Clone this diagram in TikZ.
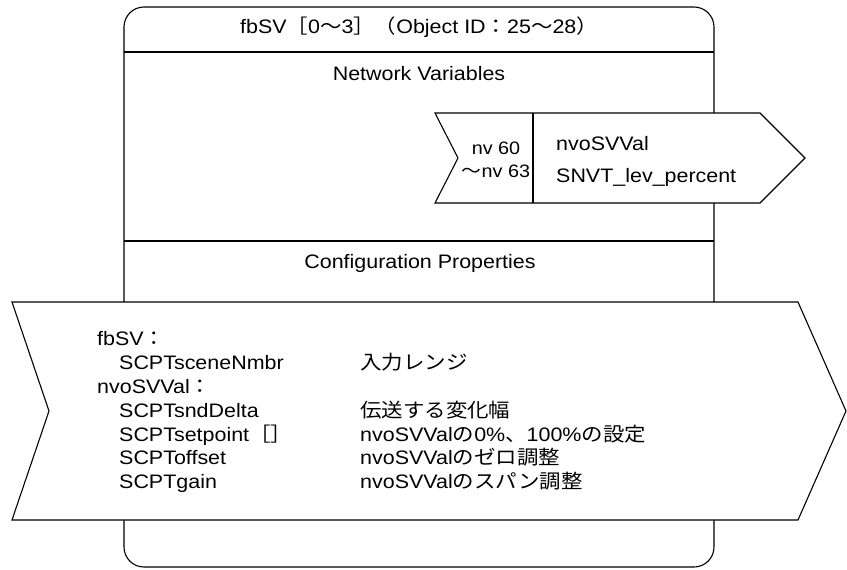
\documentclass[tikz,border=0pt]{standalone}
\usepackage{fontspec}
\setmainfont[FakeStretch=1.1]{Liberation Sans}
\newfontfamily\jp[FakeStretch=1.1]{Noto Sans CJK JP}
\begin{document}
\begin{tikzpicture}[x=1pt,y=-1pt,
  txt/.style={font=\fontsize{19.5}{23}\selectfont, inner sep=0pt},
  ltxt/.style={txt, anchor=base west},
  arrowbox/.style={draw, line width=1.1pt, fill=white}]
\useasboundingbox (0,0) rectangle (847,570);

% outer block
\draw[line width=1.1pt, rounded corners=20pt] (124,7) rectangle (714,567);
\draw[line width=1.1pt] (124,52) -- (714,52);
\draw[line width=1.1pt] (124,241) -- (714,241);
\node[txt] (title) at (419,27) {fbSV{\jp ［}0{\jp ～}3{\jp ］（}Object ID{\jp ：}25{\jp ～}28{\jp ）}};
\node[txt] (nvhead) at (419,74) {Network Variables};
\node[txt] (cphead) at (420,263) {Configuration Properties};

% output variable
\draw[arrowbox] (435,113) -- (760,113) -- (805,158) -- (760,203) -- (435,203) -- (458,158) -- cycle;
\draw[line width=1.1pt] (533,113) -- (533,203);
\node[txt, font=\fontsize{18}{23}\selectfont, align=center] (nvno) at (496,160) {nv 60\\{\jp ～}nv 63};
\node[ltxt] (nvname) at (556,150) {nvoSVVal};
\node[ltxt] (nvtype) at (556,182) {SNVT\_lev\_percent};

% configuration properties
\draw[arrowbox] (12,302) -- (798,302) -- (846,411) -- (798,520) -- (12,520) -- (49,411) -- cycle;
\node[ltxt] (fbsv) at (97,345) {fbSV{\jp ：}};
\node[ltxt] (scene) at (119,369) {SCPTsceneNmbr};
\node[ltxt] (scenetx) at (360,369) {\jp 入力レンジ};
\node[ltxt] (nvo) at (97,393) {nvoSVVal{\jp ：}};
\node[ltxt] (delta) at (119,417) {SCPTsndDelta};
\node[ltxt] (deltatx) at (360,417) {\jp 伝送する変化幅};
\node[ltxt] (setp) at (119,441) {SCPTsetpoint{\jp ［］}};
\node[ltxt] (setptx) at (360,441) {nvoSVVal{\jp の}0\%{\jp 、}100\%{\jp の設定}};
\node[ltxt] (offs) at (119,464) {SCPToffset};
\node[ltxt] (offstx) at (360,464) {nvoSVVal{\jp のゼロ調整}};
\node[ltxt] (gain) at (119,488) {SCPTgain};
\node[ltxt] (gaintx) at (360,488) {nvoSVVal{\jp のスパン調整}};

\end{tikzpicture}
\end{document}
